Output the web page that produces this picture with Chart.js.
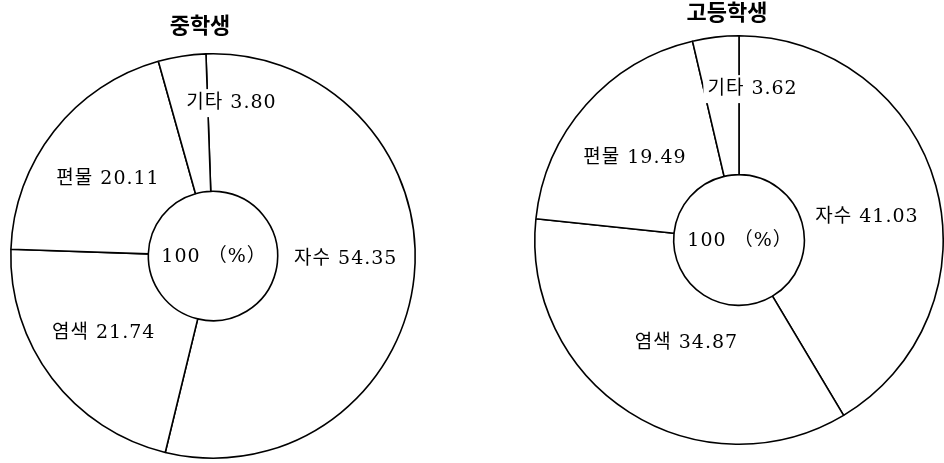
<!DOCTYPE html>
<html lang="ko">
<head>
<meta charset="utf-8">
<script src="https://cdn.jsdelivr.net/npm/chart.js@4"></script>
<style>
  html, body { margin: 0; padding: 0; background: #fff; }
  .wrap { position: absolute; top: 0; width: 472px; height: 463px; }
</style>
</head>
<body>
<div class="wrap" style="left:0"><canvas id="middleChart"></canvas></div>
<div class="wrap" style="left:472px"><canvas id="highChart"></canvas></div>
<script>
// data (%)
const categories = ["자수", "염색", "편물", "기타"];
const middleValues = [54.35, 21.74, 20.11, 3.80];
const highValues = [41.03, 34.87, 19.49, 3.62];
const chartTitles = ["중학생", "고등학생"];
const centerLabel = "100 （%）";

// draws title, slice labels and the centre text
const labelPlugin = {
  id: "sliceLabels",
  afterDraw(chart, args, opts) {
    const ctx = chart.ctx;
    const meta = chart.getDatasetMeta(0);
    const values = chart.data.datasets[0].data;
    ctx.save();
    ctx.textAlign = "center";
    ctx.textBaseline = "middle";
    ctx.font = "19px 'DejaVu Serif', 'Noto Sans CJK KR'";
    ctx.letterSpacing = "1px";

    meta.data.forEach((arc, i) => {
      const p = arc.tooltipPosition();
      const x = p.x + opts.nudge[i][0];
      const y = p.y + opts.nudge[i][1];
      const text = chart.data.labels[i] + " " + values[i].toFixed(2);
      const w = ctx.measureText(text).width;
      // white box so the label cuts the slice line like the original
      ctx.fillStyle = "#fff";
      ctx.fillRect(x - w / 2 - 4, y - 14, w + 8, 28);
      ctx.fillStyle = "#000";
      ctx.fillText(text, x, y);
    });

    const c = meta.data[0];
    ctx.fillText(centerLabel, c.x + 1, c.y + 1);

    ctx.font = "bold 22px 'Noto Sans CJK KR'";
    ctx.letterSpacing = "0px";
    ctx.fillText(opts.title, opts.titleX, opts.titleY);
    ctx.restore();
  }
};

const makeDonut = (id, values, title, extra) => {
  const ctx = document.getElementById(id);
  return new Chart(ctx, {
    type: "doughnut",
    data: {
      labels: categories,
      datasets: [
        {
          data: values,
          backgroundColor: "#fff",
          borderColor: "#000",
          borderWidth: 1.6,
          hoverOffset: 0,
          offset: 0,
        },
      ],
    },
    options: {
      responsive: true,
      maintainAspectRatio: false,
      animation: false,
      events: [],
      cutout: "32%",
      rotation: extra.rotation,
      layout: { padding: extra.padding },
      plugins: {
        legend: { display: false },
        tooltip: { enabled: false },
        sliceLabels: {
          title: title,
          titleX: extra.titleX,
          titleY: extra.titleY,
          nudge: extra.nudge,
        },
      },
    },
    plugins: [labelPlugin],
  });
};

makeDonut("middleChart", middleValues, chartTitles[0], {
  rotation: -2,
  padding: { left: 10, right: 56, top: 53, bottom: 4 },
  titleX: 200,
  titleY: 25,
  nudge: [[0, -10], [-3, -4], [0, 5], [39, -21]],
});

makeDonut("highChart", highValues, chartTitles[1], {
  rotation: 0,
  padding: { left: 62, right: 0, top: 35, bottom: 18 },
  titleX: 255,
  titleY: 12,
  nudge: [[-2, 13], [20, -11], [-3, 7], [29, -17]],
});
</script>
</body>
</html>
